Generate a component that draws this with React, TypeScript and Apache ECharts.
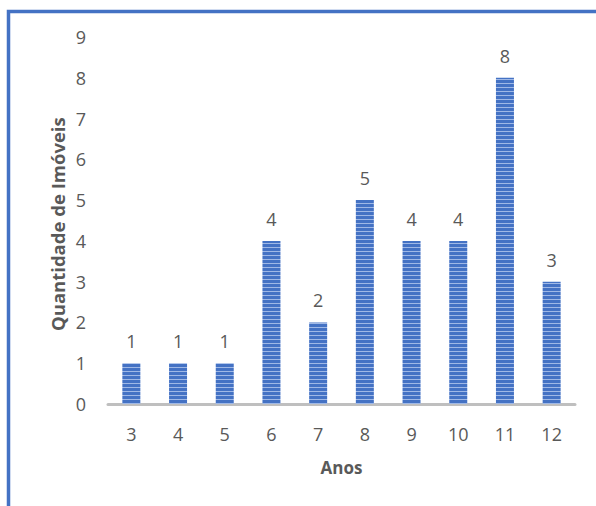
import React, { useEffect, useRef } from "react";
import * as echarts from "echarts";

const anos = ["3", "4", "5", "6", "7", "8", "9", "10", "11", "12"];
const quantidade = [1, 1, 1, 4, 2, 5, 4, 4, 8, 3];
const yMax = 9;
const yTitle = "Quantidade de Imóveis";
const xTitle = "Anos";

const FONT = "'Open Sans', 'Noto Sans', sans-serif";
const TEXT = "#595959";
const BLUE = "#4472C4";

// horizontal striped fill for the bars
function stripePattern(): string {
  const c = document.createElement("canvas");
  c.width = 4;
  c.height = 4;
  const ctx = c.getContext("2d")!;
  ctx.fillStyle = BLUE;
  ctx.fillRect(0, 0, 4, 4);
  ctx.fillStyle = "#9fb8e6";
  ctx.fillRect(0, 3, 4, 1);
  return c.toDataURL();
}

export default function App() {
  const ref = useRef<HTMLDivElement>(null);

  useEffect(() => {
    if (!ref.current) return;
    const chart = echarts.init(ref.current, null, { renderer: "svg" });
    chart.setOption({
      animation: false,
      backgroundColor: "#ffffff",
      grid: { left: 108, right: 21, top: 37, bottom: 102 },
      graphic: [
        {
          type: "rect",
          shape: { x: 8.5, y: 11.5, width: 800, height: 800 },
          style: { fill: "none", stroke: BLUE, lineWidth: 3.5 },
          silent: true,
        },
        {
          // vertical axis title, written bottom-to-top from its start point
          type: "text",
          x: 57,
          y: 331,
          rotation: Math.PI / 2,
          style: {
            text: yTitle,
            align: "left",
            verticalAlign: "middle",
            fontFamily: FONT,
            fontSize: 18.5,
            fontWeight: "bold",
            fill: TEXT,
          },
          silent: true,
        },
      ],
      xAxis: {
        type: "category",
        data: anos,
        name: xTitle,
        nameLocation: "middle",
        nameGap: 55,
        nameTextStyle: { fontFamily: FONT, fontSize: 17, fontWeight: "bold", color: TEXT },
        axisLine: { show: true, lineStyle: { color: "#bfbfbf", width: 3 } },
        axisTick: { show: false },
        axisLabel: { fontFamily: FONT, fontSize: 18, color: TEXT, margin: 21 },
      },
      yAxis: {
        type: "value",
        min: 0,
        max: yMax,
        interval: 1,
        axisLine: { show: false },
        axisTick: { show: false },
        splitLine: { show: false },
        axisLabel: { fontFamily: FONT, fontSize: 18, color: TEXT, margin: 22 },
      },
      series: [
        {
          type: "bar",
          data: quantidade,
          barWidth: 18,
          itemStyle: { color: { image: stripePattern(), repeat: "repeat" } },
          label: {
            show: true,
            position: "top",
            distance: 13,
            fontFamily: FONT,
            fontSize: 18,
            color: TEXT,
          },
        },
      ],
    });
    return () => chart.dispose();
  }, []);

  return (
    <div
      ref={ref}
      style={{ position: "absolute", left: 0, top: 0, width: 596, height: 506 }}
    />
  );
}
